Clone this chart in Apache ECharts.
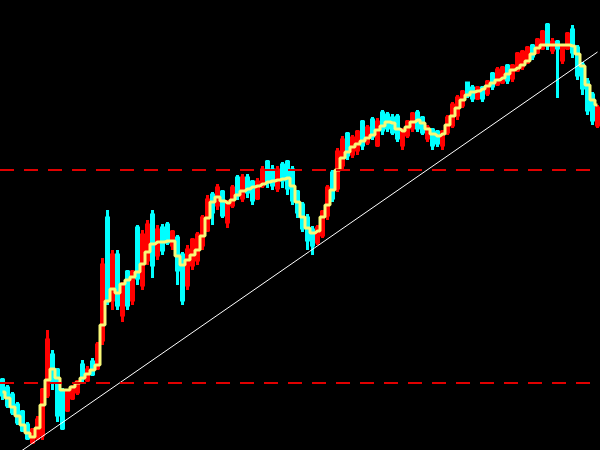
<!DOCTYPE html>
<html>
<head>
<meta charset="utf-8">
<script src="https://cdn.jsdelivr.net/npm/echarts@6/dist/echarts.min.js"></script>
<style>html,body{margin:0;padding:0;background:#000;}#c{width:600px;height:450px;}</style>
</head>
<body>
<div id="c"></div>
<script>
// candles: [open, close, low, high] split into arrays
const opens = [70,62,55,45,38,25,8,12,15,55,95,80,58,40,52,58,85,70,88,82,
110,232,150,195,135,178,150,222,165,190,235,195,222,225,205,212,195,165,185,190,
205,220,255,245,258,228,245,272,252,272,268,252,265,288,280,262,285,288,280,258,
245,232,220,208,215,235,277,262,285,316,296,300,328,308,330,305,337,335,332,333,
305,315,322,337,332,312,320,318,305,318,325,335,345,367,362,352,362,357,376,366,
368,384,372,380,384,388,404,398,402,425,400,408,390,402,420,402,385,368,355,325];
const closes = [55,45,38,28,20,12,20,30,60,110,68,35,22,58,62,68,72,80,76,105,
185,150,195,145,165,145,178,172,215,225,185,220,200,208,218,180,150,200,210,215,
232,250,238,262,235,248,262,255,272,258,250,268,280,268,265,280,270,262,250,238,
222,210,205,222,238,262,252,298,310,295,312,318,305,322,314,328,320,322,318,312,
320,328,336,322,318,322,305,307,318,332,345,352,358,355,352,362,352,368,364,380,
382,370,384,396,398,402,394,410,418,405,408,402,404,416,398,375,362,340,330,342];
const lows = [50,42,35,25,18,10,6,10,10,52,60,28,20,38,50,55,68,68,74,80,
105,145,140,140,128,140,145,165,160,185,172,190,195,205,200,165,145,160,180,185,
200,218,225,240,232,222,242,250,248,252,245,250,262,262,260,258,262,255,245,232,
218,200,195,205,212,230,248,258,280,290,292,295,300,305,310,303,315,318,315,308,
300,312,318,318,315,308,300,303,300,315,322,330,342,352,348,350,348,354,360,364,
366,366,368,378,380,386,390,396,400,400,396,352,386,400,392,370,355,335,325,322];
const highs = [72,65,58,48,40,28,22,34,62,120,100,82,62,60,65,70,90,84,92,108,
192,240,200,200,168,180,180,225,220,230,240,225,226,228,220,215,198,205,212,218,
235,255,258,266,260,250,265,275,276,276,270,272,284,290,285,284,288,290,284,260,
248,236,224,225,240,265,280,302,314,318,315,320,330,325,333,332,340,338,336,336,
322,330,338,340,334,325,322,320,320,335,348,355,360,368,365,364,364,370,378,383,
384,386,386,398,400,404,406,412,420,427,412,410,406,418,425,405,388,372,358,345];
// yellow average line
const maValues = [58,52,43,34,25,17,13,22,45,70,81,72,60,60,63,67,72,76,80,85,
125,149,161,157,166,170,173,178,186,198,206,208,208,209,209,194,185,190,195,200,
214,232,248,253,249,247,250,255,259,261,263,264,266,268,269,270,271,272,264,248,
233,222,217,219,233,245,260,280,292,298,303,306,309,312,315,320,324,328,327,321,
319,323,328,330,327,321,316,314,316,325,334,342,350,355,358,359,361,364,367,370,
372,376,380,382,385,389,396,402,405,405,405,405,405,405,404,396,384,365,350,345];
// horizontal reference levels
const levels = [280, 67];
// trend line endpoints [category index, value]
const trendStart = [0, -14];
const trendEnd = [119, 398];

const categories = opens.map((_, i) => 'D' + (i + 1));
const candleData = opens.map((o, i) => [o, closes[i], lows[i], highs[i]]);

const chart = echarts.init(document.getElementById('c'), null, {renderer: 'canvas'});
chart.setOption({
  backgroundColor: '#000000',
  animation: false,
  grid: {left: 0, right: 0, top: 0, bottom: 0},
  xAxis: {type: 'category', data: categories, show: false, boundaryGap: true},
  yAxis: {type: 'value', min: 0, max: 450, show: false},
  series: [
    {
      type: 'candlestick',
      data: candleData,
      barWidth: 2,
      itemStyle: {
        color: '#ff0000', color0: '#00ffff',
        borderColor: '#ff0000', borderColor0: '#00ffff', borderWidth: 3
      },
      markLine: {
        symbol: 'none', silent: true,
        label: {show: false},
        lineStyle: {color: '#e00000', width: 2, type: [14, 10]},
        data: levels.map(v => ({yAxis: v}))
      }
    },
    {
      type: 'line',
      data: maValues,
      symbol: 'none',
      step: 'middle',
      lineStyle: {color: '#f8f878', width: 3},
      z: 3
    },
    {
      type: 'line',
      data: [trendStart, trendEnd],
      symbol: 'none',
      lineStyle: {color: '#ffffff', width: 1},
      z: 4
    }
  ]
});
</script>
</body>
</html>
